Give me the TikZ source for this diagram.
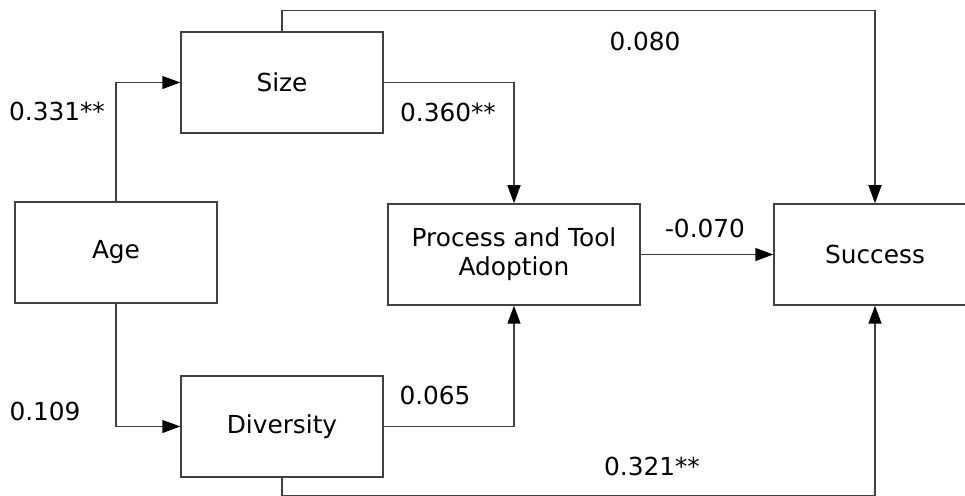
\documentclass[tikz,border=0pt]{standalone}
\usepackage{fontspec}
\setmainfont{DejaVu Sans}
\usetikzlibrary{arrows.meta}

\begin{document}
\begin{tikzpicture}[x=0.5pt, y=-0.5pt,
	font=\fontsize{12.4pt}{14.6pt}\selectfont,
	var/.style={draw=black!75, line width=0.75pt, minimum width=101pt, minimum height=50.5pt, inner sep=0pt, align=center},
	path/.style={draw=black!75, line width=0.75pt, -{Triangle[length=9pt, width=6.5pt, color=black]}}]
\useasboundingbox (0,0) rectangle (965,496);
\clip (0,0) rectangle (965,496);
\fill[white] (0,0) rectangle (965,496);
% variables
\node[var] (age) at (116,252.5) {Age};
\node[var] (size) at (282,82.5) {Size};
\node[var] (diversity) at (282,426.5) {Diversity};
\node[var, minimum width=126pt] (adoption) at (514,254.5) {Process and Tool\\Adoption};
\node[var] (success) at (875,254.5) {Success};
% paths
\draw[path] (age.north) |- (size.west);
\draw[path] (age.south) |- (diversity.west);
\draw[path] (size.east) -| (adoption.north);
\draw[path] (diversity.east) -| (adoption.south);
\draw[path] (adoption.east) -- (success.west);
\draw[path] (size.north) -- ++(0,-20.5) -| (success.north);
\draw[path] (diversity.south) -- ++(0,18.5) -| (success.south);
% coefficients
\node (c1) at (57,111) {0.331**};
\node (c2) at (45,411) {0.109};
\node (c3) at (448,112) {0.360**};
\node (c4) at (435,395) {0.065};
\node (c5) at (705,228) {-0.070};
\node (c6) at (645,41) {0.080};
\node (c7) at (652,466) {0.321**};
\end{tikzpicture}
\end{document}
